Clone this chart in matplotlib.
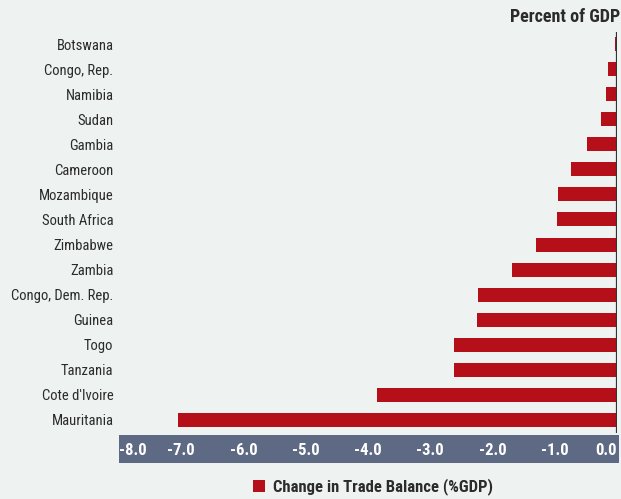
import matplotlib
matplotlib.use("Agg")
import matplotlib.pyplot as plt
from matplotlib.patches import Rectangle, Patch

plt.rcParams['font.family'] = ['Roboto Condensed', 'DejaVu Sans']

# --- Dane ---
countries = ["Botswana", "Congo, Rep.", "Namibia", "Sudan", "Gambia", "Cameroon",
             "Mozambique", "South Africa", "Zimbabwe", "Zambia", "Congo, Dem. Rep.",
             "Guinea", "Togo", "Tanzania", "Cote d'Ivoire", "Mauritania"]
trade_change = [-0.04, -0.14, -0.18, -0.26, -0.48, -0.74,
                -0.95, -0.96, -1.30, -1.69, -2.23,
                -2.25, -2.62, -2.62, -3.86, -7.05]
x_ticks = [-8, -7, -6, -5, -4, -3, -2, -1, 0]
tick_labels = ["-8.0", "-7.0", "-6.0", "-5.0", "-4.0", "-3.0", "-2.0", "-1.0", "0.0"]

W, H = 621, 499
bg = '#eef2f1'
red = '#b5101a'
band = '#5e6a84'
text_col = '#2b2b2b'

fig = plt.figure(figsize=(W / 100, H / 100), dpi=100, facecolor=bg)
ax = fig.add_axes([119 / W, (H - 432.5) / H, 498 / W, 401 / H])
ax.set_facecolor('none')

ypos = list(range(len(countries)))
ax.barh(ypos, trade_change, height=0.56, color=red, zorder=2)
ax.axvline(0, color='#333333', lw=1.6, zorder=3)

ax.set_xlim(-8, 0)
ax.set_ylim(len(countries) - 0.5, -0.5)
ax.set_yticks(ypos)
ax.set_yticklabels(countries, fontsize=10.5, color=text_col)
ax.tick_params(axis='y', length=0, pad=4)

ax.set_xticks(x_ticks)
ax.set_xticklabels(tick_labels, fontsize=12, color='white', fontweight='bold')
ax.tick_params(axis='x', length=0, pad=7.5)
labels = ax.get_xticklabels()
labels[0].set_horizontalalignment('left')
labels[-1].set_horizontalalignment('right')

for s in ax.spines.values():
    s.set_visible(False)

# pasek osi x
fig.add_artist(Rectangle((119 / W, (H - 463) / H), 500 / W, 28 / H,
                         transform=fig.transFigure, facecolor=band,
                         edgecolor='none', zorder=0))

fig.text(620 / W, (H - 17) / H, "Percent of GDP", ha='right', va='center',
         fontsize=13, fontweight='bold', color=text_col)

handle = Patch(facecolor=red, edgecolor='none')
fig.legend([handle], ["Change in Trade Balance (%GDP)"], loc='center',
           bbox_to_anchor=(373 / W, 12 / H), frameon=False,
           prop={'size': 12, 'weight': 'bold'}, handlelength=0.75,
           handleheight=0.75, handletextpad=0.5, labelcolor=text_col)

fig.savefig('out.png', dpi=100, facecolor=bg)
